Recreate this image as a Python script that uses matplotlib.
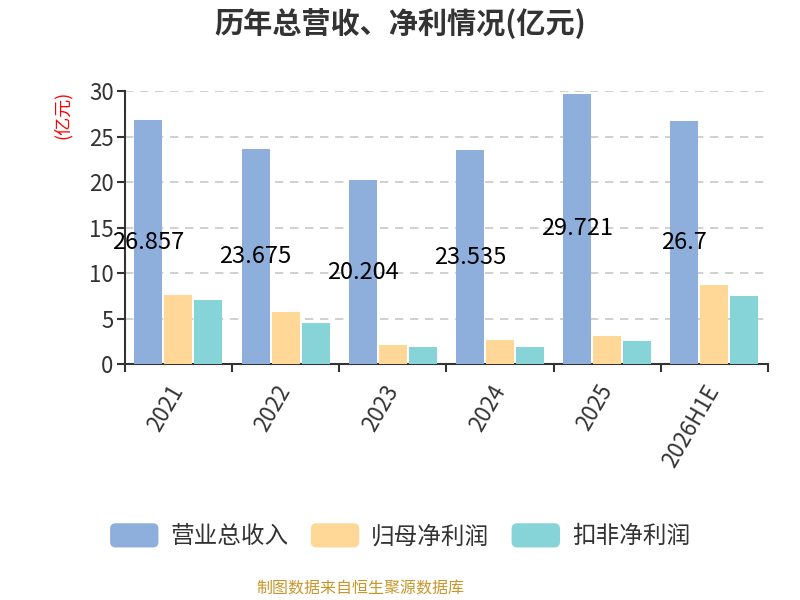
import numpy as np
import matplotlib
matplotlib.use('Agg')
import matplotlib.pyplot as plt
from matplotlib.patches import FancyBboxPatch
from matplotlib.legend_handler import HandlerPatch

plt.rcParams['font.family'] = ['Noto Sans CJK SC', 'DejaVu Sans']
plt.rcParams['axes.unicode_minus'] = False

# 数据
years = ['2021', '2022', '2023', '2024', '2025', '2026H1E']
revenue = [26.857, 23.675, 20.204, 23.535, 29.721, 26.7]
net_profit = [7.6, 5.7, 2.1, 2.64, 3.15, 8.68]
deducted_profit = [7.1, 4.5, 1.87, 1.87, 2.6, 7.5]
series_names = ['营业总收入', '归母净利润', '扣非净利润']
colors = ['#8eaedb', '#ffd898', '#87d4d8']


class RoundHandler(HandlerPatch):
    def create_artists(self, legend, orig_handle, xdescent, ydescent,
                       width, height, fontsize, trans):
        p = FancyBboxPatch((-xdescent, -ydescent), width, height,
                           boxstyle='round,pad=0,rounding_size=4',
                           facecolor=orig_handle.get_facecolor(),
                           edgecolor='none', transform=trans)
        return [p]


fig = plt.figure(figsize=(8, 6), dpi=100)
ax = fig.add_axes([0.156, 0.393, 0.804, 0.455])

x = np.arange(len(years))
w = 0.26
bars = []
for i, vals in enumerate([revenue, net_profit, deducted_profit]):
    b = ax.bar(x + (i - 1) * 0.28, vals, w, color=colors[i],
               label=series_names[i], zorder=3)
    bars.append(b)

for xi, v in zip(x, revenue):
    ax.text(xi - 0.28, v / 2, f'{v:g}', ha='center', va='center',
            fontsize=17, color='black', zorder=4)

ax.set_xlim(-0.5, len(years) - 0.5)
ax.set_ylim(0, 30)
ax.set_yticks(range(0, 31, 5))
ax.yaxis.grid(True, linestyle=(0, (5, 4)), color='#c8c8c8', linewidth=1.2, zorder=0)

ax.set_xticks(x)
ax.set_xticklabels(years, rotation=60, ha='right', va='center',
                   rotation_mode='anchor', fontsize=16, color='#333333')
ax.set_xticks(np.arange(-0.5, len(years), 1), minor=True)
ax.tick_params(axis='x', which='major', length=0, pad=16)
ax.tick_params(axis='x', which='minor', length=6, width=1.5, color='#333333')
ax.tick_params(axis='y', length=6, width=1.5, color='#333333',
               labelsize=16, labelcolor='#333333', pad=2)

for s in ['top', 'right']:
    ax.spines[s].set_visible(False)
for s in ['left', 'bottom']:
    ax.spines[s].set_color('#333333')
    ax.spines[s].set_linewidth(1.5)

fig.text(0.078, 0.808, '(亿元)', color='red', fontsize=13, rotation=90,
         ha='center', va='center')

fig.text(0.5, 0.962, '历年总营收、净利情况(亿元)', ha='center', va='center',
         fontsize=21, fontweight='bold', color='#333333')

handles = [b.patches[0] for b in bars]
fig.legend(handles, series_names, loc='center', bbox_to_anchor=(0.5, 0.107),
           ncol=3, frameon=False, fontsize=17, handlelength=2.05,
           handleheight=1.2, handletextpad=0.5, columnspacing=0.95,
           handler_map={b.patches[0]: RoundHandler() for b in bars},
           labelcolor='#333333')

fig.text(0.451, 0.018, '制图数据来自恒生聚源数据库', ha='center', va='center',
         fontsize=11.5, color='#c8962a')

fig.savefig('out.png', dpi=100)
